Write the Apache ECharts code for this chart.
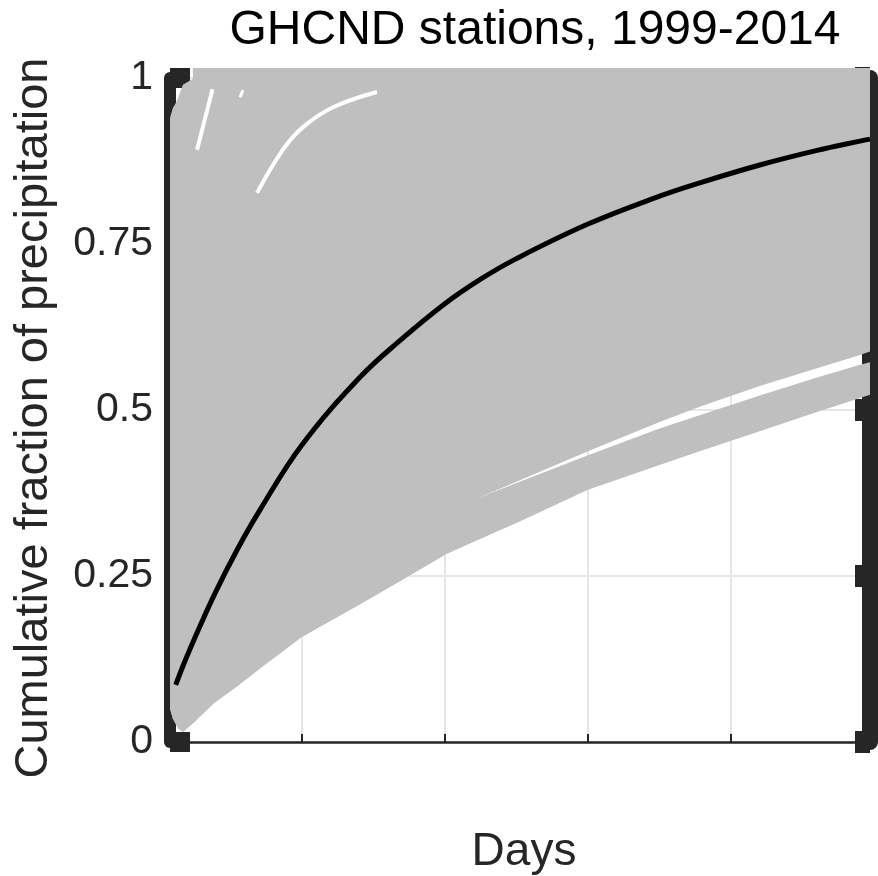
<!DOCTYPE html>
<html><head><meta charset="utf-8">
<script src="https://cdn.jsdelivr.net/npm/echarts@6/dist/echarts.min.js"></script>
<style>html,body{margin:0;padding:0;background:#fff}#c{width:878px;height:876px}</style>
</head><body><div id="c"></div>
<script>
const titleText = 'GHCND stations, 1999-2014';
const xName = 'Days';
const yName = 'Cumulative fraction of precipitation';
const yTicks = [0, 0.25, 0.5, 0.75, 1];
const yTickLabels = ['0', '0.25', '0.5', '0.75', '1'];
const xTickDays = [100, 200, 300, 400];

// gray envelope of all station curves
const bandDays = [8, 10, 12, 14, 17, 25, 39, 55, 71, 100, 141, 170, 200, 225, 250, 300, 350, 378, 420, 460, 490, 497];
const lowEdge  = [0.05, 0.035, 0.027, 0.02, 0.015, 0.030, 0.059, 0.084, 0.111, 0.158, 0.208, 0.244, 0.282, 0.306, 0.330, 0.380, 0.417, 0.438, 0.468, 0.497, 0.518, 0.523];
const lowTop   = [0.10, 0.085, 0.077, 0.07, 0.065, 0.080, 0.109, 0.134, 0.161, 0.208, 0.258, 0.294, 0.332, 0.369, 0.390, 0.432, 0.472, 0.492, 0.522, 0.549, 0.568, 0.572];
const mainLow  = [0.05, 0.035, 0.027, 0.02, 0.015, 0.030, 0.059, 0.084, 0.111, 0.158, 0.208, 0.244, 0.282, 0.369, 0.392, 0.438, 0.482, 0.505, 0.536, 0.563, 0.583, 0.588];
const bandTop  = [0.94, 0.955, 0.962, 0.972, 0.99, 1, 1, 1, 1, 1, 1, 1, 1, 1, 1, 1, 1, 1, 1, 1, 1, 1];

// stations saturating at 1
const topDays = [24, 497];
const topVals = [1, 1];

// small uncovered gaps between station curves
const gapADays = [37.7, 26.9];
const gapAVals = [0.983, 0.892];
const gapBDays = [59, 57];
const gapBVals = [0.982, 0.971];
const gapCDays = [68.8, 86.9, 100.9, 121.9, 152.6];
const gapCVals = [0.827, 0.892, 0.926, 0.956, 0.979];

// mean curve
const meanDays = [12, 17, 25, 39, 55, 71, 100, 141, 170, 200, 225, 250, 300, 350, 378, 420, 460, 490, 497];
const meanVals = [0.086, 0.114, 0.155, 0.222, 0.290, 0.350, 0.447, 0.550, 0.607, 0.660, 0.697, 0.728, 0.780, 0.822, 0.842, 0.869, 0.891, 0.905, 0.908];

const FONT = '"Liberation Sans", Arial, Helvetica, sans-serif';
const DARK = '#262626';
const GRAY = '#bfbfbf';
const GRID = '#e6e6e6';
const pair = (xs, ys) => xs.map((x, i) => [x, ys[i]]);

// polygons: [lower boundary, upper boundary]
const bands = [[lowEdge, lowTop], [mainLow, bandTop]];

function line(name, xs, ys, color, width, z, smooth) {
  return {type: 'line', name, data: pair(xs, ys), symbol: 'none', showSymbol: false, clip: false,
    smooth: smooth || false,
    lineStyle: {color, width, cap: 'butt', join: 'round'}, silent: true, z};
}

const chart = echarts.init(document.getElementById('c'), null, {renderer: 'canvas'});
chart.setOption({
  animation: false,
  backgroundColor: '#ffffff',
  graphic: [
    {type: 'text', x: 535, y: 31, z: 10, style: {text: titleText, font: '48px ' + FONT, fill: '#000',
      textAlign: 'center', textVerticalAlign: 'middle'}},
    {type: 'text', x: 34, y: 418, rotation: Math.PI / 2, z: 10, style: {text: yName, font: '47px ' + FONT, fill: DARK,
      textAlign: 'center', textVerticalAlign: 'middle'}},
    {type: 'text', x: 524, y: 852, z: 10, style: {text: xName, font: '46px ' + FONT, fill: DARK,
      textAlign: 'center', textVerticalAlign: 'middle'}}
  ],
  grid: {left: 170, right: 8, top: 78, bottom: 134, containLabel: false},
  xAxis: {
    type: 'value', min: 8, max: 497,
    axisLine: {show: true, onZero: false, lineStyle: {color: DARK, width: 2.5}},
    axisTick: {show: true, inside: true, length: 8, customValues: xTickDays, lineStyle: {color: DARK, width: 2}},
    axisLabel: {show: false},
    splitLine: {show: true, lineStyle: {color: GRID, width: 2}}
  },
  yAxis: [{
    type: 'value', min: 0, max: 1, interval: 0.25, position: 'left',
    axisLine: {show: true, onZero: false, lineStyle: {color: DARK, width: 12}},
    axisTick: {show: true, inside: true, length: 20, lineStyle: {color: DARK, width: 20}},
    axisLabel: {show: true, margin: 17, fontSize: 41, color: DARK, fontFamily: FONT,
      formatter: v => yTickLabels[yTicks.indexOf(v)]},
    splitLine: {show: true, lineStyle: {color: GRID, width: 2}}
  }, {
    type: 'value', min: 0, max: 1, interval: 0.25, position: 'right',
    axisLine: {show: true, onZero: false, lineStyle: {color: DARK, width: 16}},
    axisTick: {show: true, inside: true, length: 15, lineStyle: {color: DARK, width: 22}},
    axisLabel: {show: false},
    splitLine: {show: false}
  }],
  series: [
    {
      type: 'custom', name: 'stations', silent: true, z: 2, clip: false,
      data: bands.map((b, i) => [bandDays[0], b[0][0], i]),
      encode: {x: 0, y: 1},
      renderItem: function (params, api) {
        const b = bands[params.dataIndex];
        const lower = bandDays.map((d, i) => api.coord([d, b[0][i]]));
        const upper = bandDays.map((d, i) => api.coord([d, b[1][i]])).reverse();
        return {type: 'polygon', shape: {points: lower.concat(upper)}, style: {fill: GRAY, stroke: null}};
      }
    },
    line('saturated', topDays, topVals, GRAY, 20, 2),
    line('gapA', gapADays, gapAVals, '#ffffff', 4, 3),
    line('gapB', gapBDays, gapBVals, '#ffffff', 3, 3),
    line('gapC', gapCDays, gapCVals, '#ffffff', 4, 3, 0.4),
    line('mean', meanDays, meanVals, '#000000', 5, 4, 0.4)
  ]
});
</script></body></html>
